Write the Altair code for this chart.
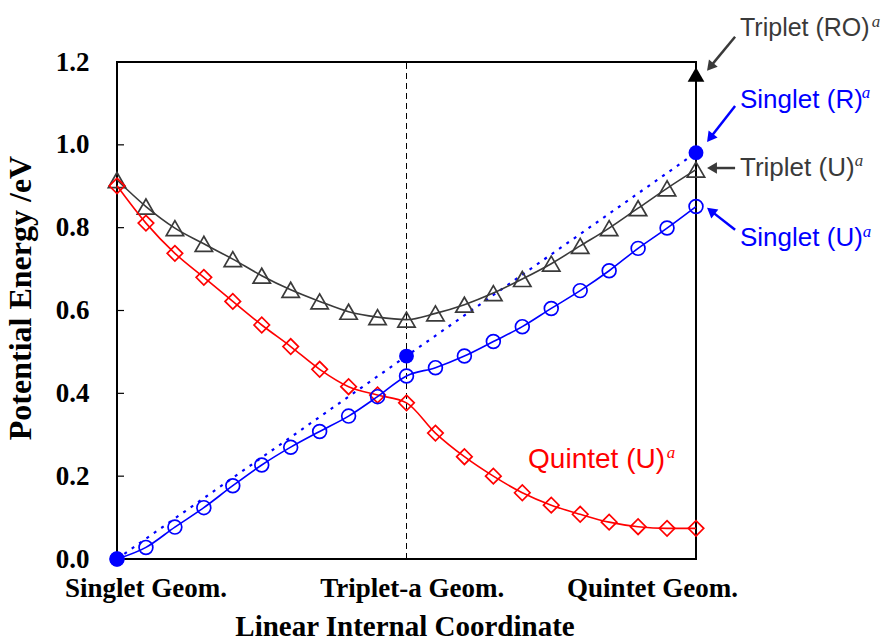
import math
import altair as alt
import pandas as pd

# ---------------- data ----------------
coord = list(range(21))
triplet_u = [0.915, 0.851, 0.799, 0.761, 0.724, 0.684, 0.650, 0.622, 0.597, 0.584, 0.578,
             0.593, 0.614, 0.642, 0.676, 0.713, 0.756, 0.799, 0.847, 0.895, 0.940]
quintet_u = [0.901, 0.811, 0.738, 0.680, 0.622, 0.565, 0.513, 0.458, 0.416, 0.396, 0.377,
             0.304, 0.247, 0.200, 0.160, 0.130, 0.108, 0.089, 0.078, 0.074, 0.074]
singlet_u = [0.000, 0.028, 0.077, 0.124, 0.177, 0.227, 0.270, 0.308, 0.345, 0.392, 0.442,
             0.462, 0.490, 0.525, 0.561, 0.605, 0.648, 0.696, 0.750, 0.799, 0.851]
singlet_r_x = [0, 10, 20]
singlet_r = [0.000, 0.490, 0.981]
triplet_ro_x = [20]
triplet_ro = [1.17]

geom_labels = ["Singlet Geom.", "Triplet-a Geom.", "Quintet Geom."]
y_ticks = [0.0, 0.2, 0.4, 0.6, 0.8, 1.0, 1.2]

# ---------------- layout ----------------
W, H = 579, 497
XMAX, YMAX = 20, 1.2
PX = W / XMAX      # px per x unit
PY = H / YMAX      # px per y unit
BLUE, RED, GREY = "#0000FF", "#FF0000", "#3A3A3A"

xs = alt.Scale(domain=[0, XMAX], nice=False, zero=False)
ys = alt.Scale(domain=[0, YMAX], nice=False, zero=False)

X = lambda f: alt.X(f, type="quantitative", scale=xs)
Y = lambda f: alt.Y(f, type="quantitative", scale=ys)

series = pd.DataFrame({"x": coord, "tu": triplet_u, "qu": quintet_u, "su": singlet_u})
sr = pd.DataFrame({"x": singlet_r_x, "y": singlet_r})
tro = pd.DataFrame({"x": triplet_ro_x, "y": triplet_ro})

layers = []

# axis carrier layer (y axis labels and title, x title)
axis_layer = alt.Chart(series).mark_point(opacity=0).encode(
    x=alt.X("x:Q", scale=xs, axis=alt.Axis(
        labels=False, ticks=False, domain=False, grid=False,
        title="Linear Internal Coordinate", titleFont="Liberation Serif",
        titleFontWeight="bold", titleFontSize=29, titleColor="black",
        titleBaseline="alphabetic", titleY=76, titleX=W / 2 - 2)),
    y=alt.Y("tu:Q", scale=ys, axis=alt.Axis(
        values=y_ticks, format=".1f", ticks=False, domain=False, grid=False,
        labelFont="Liberation Serif", labelFontWeight="bold", labelFontSize=27,
        labelColor="black", labelPadding=28,
        title="Potential Energy /eV", titleFont="Liberation Serif",
        titleFontWeight="bold", titleFontSize=32, titleColor="black",
        titleX=-80, titleY=H / 2 - 13)),
)
layers.append(axis_layer)

# dashed vertical line at Triplet-a geometry
vline = pd.DataFrame({"x": [10], "y": [0], "y2": [YMAX]})
layers.append(alt.Chart(vline).mark_rule(color="black", strokeWidth=1, strokeDash=[6, 4]).encode(
    x=X("x"), y=Y("y"), y2="y2"))

# inward y ticks
tk = pd.DataFrame({"y": y_ticks[1:-1], "x": [0] * 5, "x2": [7 / PX] * 5})
layers.append(alt.Chart(tk).mark_rule(color="black", strokeWidth=1.2).encode(
    x=X("x"), x2="x2", y=Y("y")))

# dotted Singlet (R) line
layers.append(alt.Chart(sr).mark_line(color=BLUE, strokeWidth=2.2, strokeDash=[3, 6]).encode(
    x=X("x"), y=Y("y")))

# smooth curves + markers
for col, color, shape, size in [("tu", GREY, "triangle-up", 300),
                                ("qu", RED, "diamond", 240),
                                ("su", BLUE, "circle", 190)]:
    base = alt.Chart(series).encode(x=X("x"), y=Y(col))
    layers.append(base.mark_line(color=color, strokeWidth=1.6, interpolate="monotone"))
    layers.append(base.mark_point(color=color, shape=shape, size=size, filled=False,
                                  strokeWidth=1.7, opacity=1))

# filled markers
layers.append(alt.Chart(sr).mark_point(color=BLUE, shape="circle", size=220, filled=True, opacity=1).encode(
    x=X("x"), y=Y("y")))
layers.append(alt.Chart(tro).mark_point(color="black", shape="triangle-up", size=280, filled=True, opacity=1).encode(
    x=X("x"), y=Y("y")))

# x category labels
glab = pd.DataFrame({"x": [1.0, 10.2, 18.5], "t": geom_labels})
layers.append(alt.Chart(glab).mark_text(font="Liberation Serif", fontWeight="bold", fontSize=27,
                                         color="black", baseline="alphabetic", align="center").encode(
    x=X("x"), y=alt.value(H + 38), text="t:N"))

# annotations
ann = pd.DataFrame({
    "t": ["Triplet (RO)", "Singlet (R)", "Triplet (U)", "Singlet (U)", "Quintet (U)"],
    "x": [21.52, 21.52, 21.52, 21.52, 14.2],
    "y": [1.283, 1.109, 0.944, 0.775, 0.239],
    "c": [GREY, BLUE, GREY, BLUE, RED],
    "s": [25, 26, 26, 26, 28],
})
layers.append(alt.Chart(ann).mark_text(font="Liberation Sans", align="left", baseline="middle").encode(
    x=X("x"), y=Y("y"), text="t:N", color=alt.Color("c:N", scale=None), size=alt.Size("s:Q", scale=None)))
sup = ann.copy()
sup["t"] = "a"
sup["ax"] = [(876 - 117) / PX, (866 - 117) / PX, (859 - 117) / PX, (867 - 117) / PX, (671 - 117) / PX]
sup["ay"] = [(559 - 22) / PY, (559 - 93) / PY, (559 - 161) / PY, (559 - 232) / PY, (559 - 453) / PY]
layers.append(alt.Chart(sup).mark_text(font="Liberation Serif", fontStyle="italic", fontSize=17,
                                        align="center", baseline="middle").encode(
    x=X("ax"), y=Y("ay"), text="t:N", color=alt.Color("c:N", scale=None)))

# arrows (start -> tip), in data units
arrows = [
    (21.35, 1.261, 20.38, 1.179, GREY),
    (21.35, 1.094, 20.38, 1.007, BLUE),
    (21.35, 0.944, 20.38, 0.944, GREY),
    (21.35, 0.795, 20.38, 0.848, BLUE),
]
rows_l, rows_h = [], []
for x0, y0, x1, y1, c in arrows:
    dxp = (x1 - x0) * PX
    dyp = -(y1 - y0) * PY
    L = math.hypot(dxp, dyp)
    ux, uy = dxp / L, dyp / L
    hx = x1 - 5 * ux / PX
    hy = y1 + 5 * uy / PY
    ang = math.degrees(math.atan2(ux, -uy)) % 360
    rows_l.append({"x": x0, "y": y0, "x2": hx, "y2": hy, "c": c})
    rows_h.append({"x": hx, "y": hy, "a": ang, "c": c})
al = pd.DataFrame(rows_l)
ah = pd.DataFrame(rows_h)
layers.append(alt.Chart(al).mark_rule(strokeWidth=2.5).encode(
    x=X("x"), y=Y("y"), x2="x2", y2="y2", color=alt.Color("c:N", scale=None)))
layers.append(alt.Chart(ah).mark_point(shape="triangle-up", filled=True, size=130, opacity=1).encode(
    x=X("x"), y=Y("y"), angle=alt.Angle("a:Q", scale=None), color=alt.Color("c:N", scale=None)))

chart = alt.layer(*layers).properties(
    width=W, height=H,
    autosize=alt.AutoSizeParams(type="none"),
    padding={"left": 117, "top": 62, "right": 189, "bottom": 81},
    background="white",
).configure_view(stroke="black", strokeWidth=2)

chart.save("out.html", embed_options={"renderer": "svg", "actions": False})
